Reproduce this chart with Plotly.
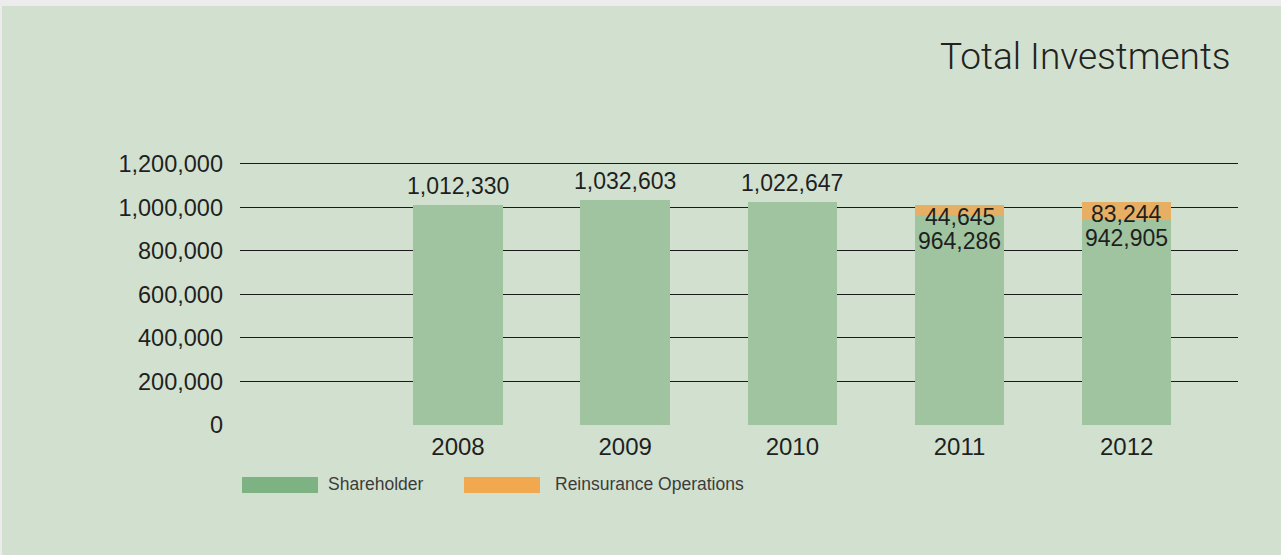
import plotly.graph_objects as go

# Data
years = ["2008", "2009", "2010", "2011", "2012"]
shareholder = [1012330, 1032603, 1022647, 964286, 942905]
reinsurance = [None, None, None, 44645, 83244]
y_ticks = [0, 200000, 400000, 600000, 800000, 1000000, 1200000]

GREEN_BAR = "#9fc49f"
ORANGE_BAR = "#e7af63"
GREEN_KEY = "#7db282"
ORANGE_KEY = "#f1a84f"
BG = "#d2e1cf"
TEXT = "#1f1f1f"
FONT = "Liberation Sans"

W, H = 1281, 555
L, R, T, B = 240, 43, 153, 130
plot_w = W - L - R
plot_h = H - T - B


def px_x(x):
    return (x - L) / plot_w


def px_y(y):
    return (H - B - y) / plot_h


fig = go.Figure()
fig.add_bar(x=years, y=shareholder, name="Shareholder",
            marker=dict(color=GREEN_BAR, line=dict(width=0)), width=0.535)
fig.add_bar(x=years, y=reinsurance, name="Reinsurance Operations",
            marker=dict(color=ORANGE_BAR, line=dict(width=0)), width=0.535)

# Value labels: above single bars, stacked inside the top of split bars
label_font = dict(size=23, color=TEXT, family=FONT)
annotations = []
for i, (s, r) in enumerate(zip(shareholder, reinsurance)):
    if r is None:
        annotations.append(dict(x=i, y=s, text=f"{s:,}", showarrow=False,
                                yanchor="middle", yshift=19, font=label_font))
    else:
        annotations.append(dict(x=i, y=s + r, text=f"{r:,}", showarrow=False,
                                yanchor="middle", yshift=-12, font=label_font))
        annotations.append(dict(x=i, y=s + r, text=f"{s:,}", showarrow=False,
                                yanchor="middle", yshift=-36, font=label_font))

# Title
annotations.append(dict(xref="paper", yref="paper", x=px_x(1233), y=px_y(57),
                        xanchor="right", yanchor="middle", showarrow=False,
                        text="Total Investments",
                        font=dict(size=37, color="#222222", family="Roboto",
                                  weight=300)))

# Legend labels
annotations.append(dict(xref="paper", yref="paper", x=px_x(326), y=px_y(484),
                        xanchor="left", yanchor="middle", showarrow=False,
                        text="Shareholder",
                        font=dict(size=17.5, color="#3c3c3c", family=FONT)))
annotations.append(dict(xref="paper", yref="paper", x=px_x(553), y=px_y(484),
                        xanchor="left", yanchor="middle", showarrow=False,
                        text="Reinsurance Operations",
                        font=dict(size=17.5, color="#3c3c3c", family=FONT)))

shapes = [
    # panel background with a thin light frame at the top and left
    dict(type="rect", xref="paper", yref="paper", layer="below",
         x0=px_x(2), x1=px_x(W + 5), y0=px_y(H + 5), y1=px_y(6),
         fillcolor=BG, line=dict(width=0)),
    # legend keys
    dict(type="rect", xref="paper", yref="paper",
         x0=px_x(242), x1=px_x(318), y0=px_y(493), y1=px_y(477),
         fillcolor=GREEN_KEY, line=dict(width=0)),
    dict(type="rect", xref="paper", yref="paper",
         x0=px_x(464), x1=px_x(540), y0=px_y(493), y1=px_y(477),
         fillcolor=ORANGE_KEY, line=dict(width=0)),
]

fig.update_layout(
    width=W, height=H,
    margin=dict(l=L, r=R, t=T, b=B, pad=0),
    paper_bgcolor="#ececec",
    plot_bgcolor=BG,
    barmode="stack",
    showlegend=False,
    annotations=annotations,
    shapes=shapes,
    font=dict(family=FONT, color=TEXT),
)
fig.update_xaxes(type="category", range=[-1.304, 4.666], showgrid=False,
                 showline=False, zeroline=False, ticks="",
                 tickfont=dict(size=24, color=TEXT, family=FONT),
                 ticklabelstandoff=5)
fig.update_yaxes(range=[0, 1250000], tickvals=y_ticks,
                 ticktext=[f"{v:,}" for v in y_ticks],
                 showgrid=True, gridcolor="#1a1a1a", gridwidth=1.3,
                 zeroline=False, showline=False, ticks="",
                 ticklabelstandoff=16,
                 tickfont=dict(size=23.5, color=TEXT, family=FONT))

fig.write_html("out.html")
